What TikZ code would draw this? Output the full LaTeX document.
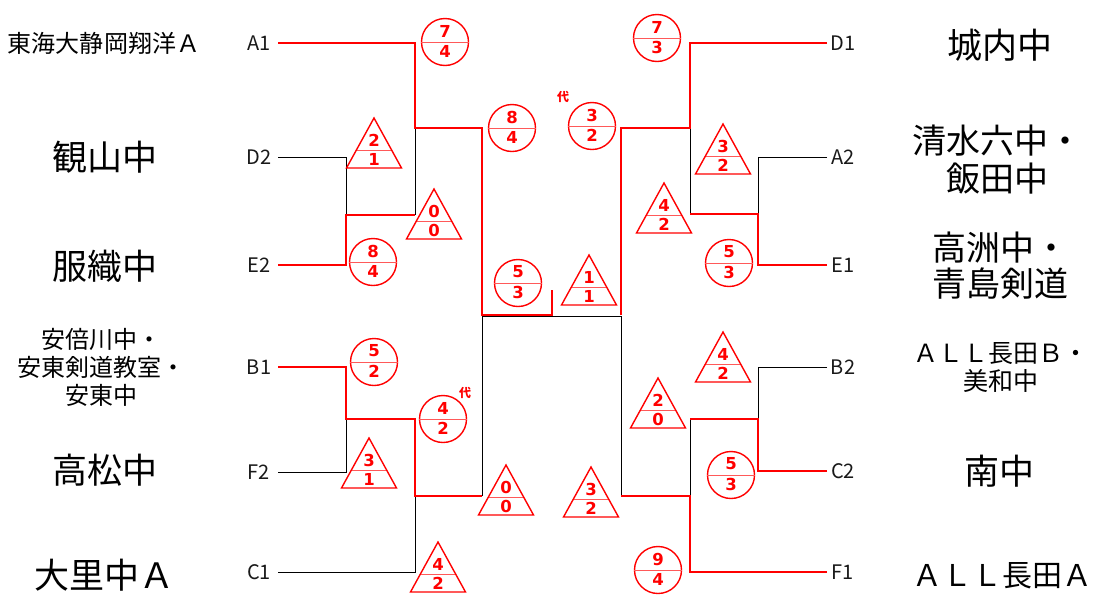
\documentclass[tikz,border=0pt]{standalone}
\usepackage{fontspec}
\setmainfont{Noto Sans CJK JP}
\newfontfamily\digitfont{DejaVu Sans}
\newcommand{\cmark}[5]{%
  \node[cmk] (#1) at (#2,#3) {};
  \draw[divline] (#1.west) -- (#1.east);
  \node[num] at (#2,#3-11) {#4};
  \node[num] at (#2,#3+9.5) {#5};
}
\newcommand{\tmark}[5]{%
  \coordinate (#1) at (#2,#3);
  \draw[tri] (#1) -- (#2+27.5,#3+50) -- (#2-27.5,#3+50) -- cycle;
  \draw[divline] (#2-17.2,#3+32) -- (#2+17.2,#3+32);
  \node[num] at (#2,#3+22) {#4};
  \node[num] at (#2,#3+41.5) {#5};
}
\begin{document}
\begin{tikzpicture}[x=1pt,y=-1pt,
  win/.style={draw=red, line width=2.9pt},
  lose/.style={draw=black, line width=0.9pt},
  slot/.style={font=\fontsize{20}{20}\selectfont, text=black!90, inner sep=0},
  big/.style={font=\fontsize{35}{35}\selectfont, inner sep=0},
  small/.style={font=\fontsize{24}{28}\selectfont, align=center, inner sep=0},
  cmk/.style={circle, draw=red, line width=1.4pt, minimum size=47pt, inner sep=0},
  tri/.style={draw=red, line width=1.4pt, line join=miter},
  divline/.style={draw=red!65, line width=0.9pt},
  num/.style={text=red, font=\digitfont\fontsize{16.5}{16.5}\selectfont\bfseries, inner sep=0},
  dai/.style={text=red, font=\fontsize{12}{12}\selectfont\bfseries, inner sep=0}]
\useasboundingbox (0,0) rectangle (1102,595);

% slot labels
\node[slot] (A1) at (259,43) {A1};
\node[slot] (D2) at (259,157) {D2};
\node[slot] (E2) at (259,265) {E2};
\node[slot] (B1) at (259,367) {B1};
\node[slot] (F2) at (259,472) {F2};
\node[slot] (C1) at (259,572) {C1};
\node[slot] (D1) at (843,43) {D1};
\node[slot] (A2) at (843,157) {A2};
\node[slot] (E1) at (843,265) {E1};
\node[slot] (B2) at (843,367) {B2};
\node[slot] (C2) at (843,471) {C2};
\node[slot] (F1) at (843,572) {F1};

% team names
\node[small] (tA1) at (104,43) {東海大静岡翔洋Ａ};
\node[big] (tD2) at (105,157) {観山中};
\node[big] (tE2) at (105,266) {服織中};
\node[small] (tB1) at (101,367) {安倍川中・\\安東剣道教室・\\安東中};
\node[big] (tF2) at (105,470) {高松中};
\node[big] (tC1) at (104,575) {大里中Ａ};
\node[big] (tD1) at (1000,45) {城内中};
\node[big, align=center, font=\fontsize{34}{38}\selectfont] (tA2) at (997,160) {清水六中・\\飯田中};
\node[big, align=center, font=\fontsize{34}{36}\selectfont] (tE1) at (1000,266) {高洲中・\\青島剣道};
\node[small, font=\fontsize{25}{28}\selectfont] (tB2) at (1001,368) {ＡＬＬ長田Ｂ・\\美和中};
\node[big] (tC2) at (999,471) {南中};
\node[big, font=\fontsize{30}{30}\selectfont] (tF1) at (1002,576) {ＡＬＬ長田Ａ};

% line ends and junctions
\coordinate (sA1) at (278,43);
\coordinate (sD2) at (278,157);
\coordinate (sE2) at (278,265);
\coordinate (sB1) at (278,367);
\coordinate (sF2) at (278,472);
\coordinate (sC1) at (278,572);
\coordinate (sD1) at (827,43);
\coordinate (sA2) at (827,157);
\coordinate (sE1) at (827,265);
\coordinate (sB2) at (827,367);
\coordinate (sC2) at (827,471);
\coordinate (sF1) at (827,572);
\coordinate (jDE) at (346,215);
\coordinate (jAE) at (415,128);
\coordinate (jBF) at (346,419);
\coordinate (jBC) at (415,496);
\coordinate (jL1) at (482,315);
\coordinate (jF) at (552,315);
\coordinate (jFt) at (552,290);
\coordinate (fL) at (482,316.5);
\coordinate (fR) at (621,316.5);
\coordinate (jAE1) at (758,214);
\coordinate (jDA) at (690,128);
\coordinate (jBC2) at (758,419);
\coordinate (jCF) at (690,496);
\coordinate (jR1) at (621,315);

% losing lines
\draw[lose] (sD2) -| (jDE);
\draw[lose] (jDE -| jAE) -- (jAE);
\draw[lose] (sF2) -| (jBF);
\draw[lose] (sC1) -| (jBC);
\draw[lose] (jBC -| fL) -- (fL) -- (fR) -- (fR |- jCF);
\draw[lose] (sA2) -| (jAE1);
\draw[lose] (jAE1 -| jDA) -- (jDA);
\draw[lose] (sB2) -| (jBC2);
\draw[lose] (jBC2 -| jCF) -- (jCF);

% winning lines
\draw[win] (sA1) -| (jAE) -| (jL1) -- (jF) -- (jFt);
\draw[win] (sE2) -| (jDE) -- (jDE -| jAE);
\draw[win] (sB1) -| (jBF) -| (jBC) -- (jBC -| jL1);
\draw[win] (sD1) -| (jDA) -| (jR1);
\draw[win] (sE1) -| (jAE1) -- (jAE1 -| jDA);
\draw[win] (sC2) -| (jBC2) -- (jBC2 -| jDA);
\draw[win] (sF1) -| (jCF) -- (jCF -| jR1);

% score marks
\cmark{m1}{445}{42}{7}{4}
\tmark{m2}{374}{118}{2}{1}
\cmark{m3}{512}{128}{8}{4}
\tmark{m4}{434}{189}{0}{0}
\cmark{m5}{373}{262}{8}{4}
\cmark{m6}{518}{283}{5}{3}
\tmark{m7}{589}{255}{1}{1}
\cmark{m8}{374}{362}{5}{2}
\cmark{m9}{443}{419}{4}{2}
\node[dai] (d1) at (465,393) {代};
\tmark{m10}{369}{438}{3}{1}
\tmark{m11}{506}{465}{0}{0}
\tmark{m12}{438}{542}{4}{2}
\cmark{m13}{657}{38}{7}{3}
\node[dai] (d2) at (563,97) {代};
\cmark{m14}{592}{126}{3}{2}
\tmark{m15}{723}{124}{3}{2}
\tmark{m16}{664}{183}{4}{2}
\cmark{m17}{729}{263}{5}{3}
\tmark{m18}{723}{332}{4}{2}
\tmark{m19}{658}{378}{2}{0}
\cmark{m20}{731}{475}{5}{3}
\tmark{m21}{591}{467}{3}{2}
\cmark{m22}{658}{570}{9}{4}
\end{tikzpicture}
\end{document}
